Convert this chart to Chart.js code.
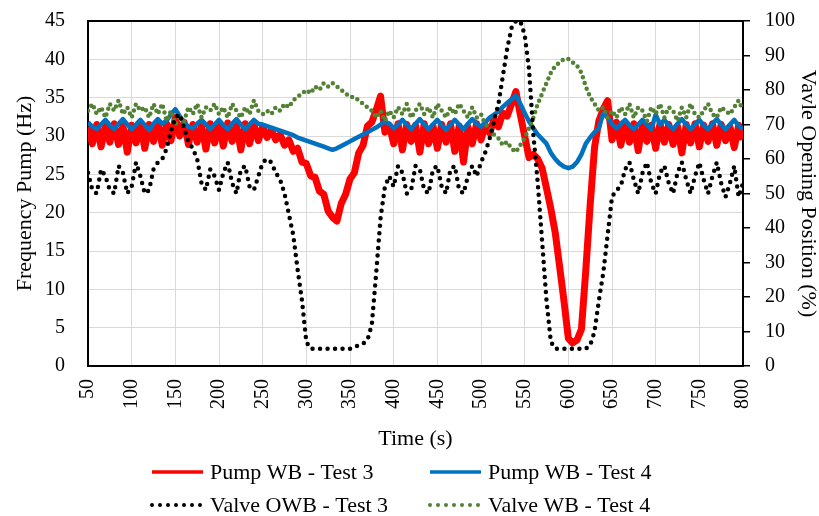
<!DOCTYPE html>
<html>
<head>
<meta charset="utf-8">
<script src="https://cdn.jsdelivr.net/npm/chart.js@4.4.1/dist/chart.umd.min.js"></script>
<style>
  html, body { margin: 0; padding: 0; background: #fff; }
  #wrap { width: 819px; height: 516px; }
</style>
</head>
<body>
<div id="wrap"><canvas id="chart" width="819" height="516"></canvas></div>
<script>
// time axis, one sample every 5 s
const times = [];
for (let t = 50; t <= 800; t += 5) times.push(t);

// Pump WB - Test 3 (Hz)
const pumpTest3 = [
  31.2, 29.0, 31.5, 28.6, 31.4, 29.2, 31.6, 28.9, 31.3, 27.9,
  31.4, 29.1, 31.6, 28.4, 31.5, 29.3, 31.7, 28.8, 31.6, 29.4,
  32.4, 30.0, 31.8, 28.9, 31.5, 29.2, 31.4, 28.3, 31.6, 29.1,
  31.5, 28.7, 31.7, 29.3, 31.4, 28.2, 31.6, 29.0, 31.5, 29.4,
  31.2, 29.8, 30.8, 29.5, 30.2, 28.8, 29.5, 28.0, 28.4, 26.6,
  26.4, 24.8, 24.6, 22.8, 22.4, 20.2, 19.4, 18.9, 21.2, 22.4,
  24.4, 25.2, 27.8, 28.8, 31.3, 31.8, 33.4, 35.2, 30.5, 31.4,
  29.0, 31.6, 28.2, 31.5, 29.3, 31.4, 27.9, 31.6, 29.0, 31.3,
  28.4, 31.5, 29.2, 31.6, 28.0, 31.3, 26.6, 31.2, 29.0, 31.6,
  29.5, 31.4, 30.4, 32.2, 31.2, 33.0, 32.6, 34.2, 35.8, 32.8,
  30.0, 27.2, 27.6, 27.0, 25.8, 23.2, 20.5, 17.4, 13.0, 8.5,
  3.6, 3.0, 3.4, 4.8, 12.5, 21.0, 28.5, 32.0, 33.5, 34.6,
  29.5, 31.8, 28.8, 31.5, 29.2, 31.6, 28.1, 31.5, 29.3, 31.4,
  28.4, 31.6, 29.2, 31.5, 28.9, 31.3, 27.8, 31.5, 29.1, 31.6,
  28.6, 31.4, 29.3, 31.6, 28.8, 31.5, 29.4, 31.2, 28.5, 31.4,
  29.5
];

// Pump WB - Test 4 (Hz)
const pumpTest4 = [
  31.8, 31.2, 30.9, 31.5, 32.1, 31.4, 30.9, 31.6, 32.2, 31.5,
  30.9, 31.5, 32.1, 31.4, 30.8, 31.6, 32.2, 31.6, 32.0, 32.8,
  33.5, 32.6, 31.8, 31.2, 31.0, 31.6, 32.1, 31.5, 30.9, 31.5,
  32.1, 31.4, 30.9, 31.6, 32.2, 31.5, 30.9, 31.5, 32.1, 31.6,
  31.5, 31.3, 31.1, 30.9, 30.7, 30.5, 30.3, 30.1, 29.8, 29.6,
  29.4, 29.2, 29.0, 28.8, 28.6, 28.4, 28.2, 28.4, 28.7, 29.0,
  29.3, 29.6, 29.9, 30.2, 30.5, 30.8, 31.1, 31.5, 31.9, 31.6,
  31.0, 31.5, 32.1, 31.5, 30.9, 31.6, 32.2, 31.5, 30.9, 31.5,
  32.1, 31.4, 30.8, 31.5, 32.1, 31.5, 30.9, 31.6, 32.2, 31.6,
  31.2, 31.8, 32.4, 32.8, 33.2, 33.8, 34.3, 34.8, 35.3, 34.2,
  33.0, 31.9, 31.0, 30.2, 29.6, 29.0, 27.8, 27.0, 26.4, 26.0,
  25.8, 26.0, 26.6, 27.6, 29.0, 29.8, 30.5, 31.0, 33.0, 32.4,
  31.6, 31.0, 31.6, 32.1, 31.4, 30.9, 31.5, 32.1, 31.5, 30.9,
  32.8, 31.5, 32.1, 31.4, 30.9, 31.6, 32.2, 31.5, 30.9, 31.5,
  32.1, 31.4, 30.9, 31.6, 32.2, 31.5, 30.9, 31.5, 32.1, 31.3,
  30.9
];

// Valve OWB - Test 3 (%)
const valveTest3 = [
  56, 51, 50, 57, 55, 51, 50, 58, 56, 50,
  52, 59, 55, 50, 51, 57, 59, 60, 63, 68,
  72, 73, 69, 65, 63, 60, 53, 51, 57, 55,
  51, 56, 59, 53, 50, 57, 58, 52, 51, 55,
  59, 60, 59, 56, 54, 50, 44, 38, 28, 19,
  7, 5, 5, 5, 5, 5, 5, 5, 5, 5,
  5, 5.5, 6, 6.5, 7.5, 12, 27, 43, 52, 55,
  52, 58, 56, 50, 51, 58, 57, 51, 50, 57,
  58, 52, 50, 57, 58, 51, 50, 55, 58, 55,
  59, 62, 66, 71, 76, 84, 92, 98, 100, 100,
  96, 86, 67, 53, 36, 19, 7, 5, 5, 5,
  5, 5, 5, 5, 5, 6, 10, 19, 27, 38,
  49, 51, 52, 57, 59, 54, 50, 56, 59, 53,
  50, 56, 58, 53, 50, 56, 59, 54, 50, 55,
  59, 54, 50, 55, 59, 53, 49, 53, 58, 49,
  53
];

// Valve WB - Test 4 (%)
const valveTest4 = [
  74, 76, 73, 75, 72, 76, 74, 77, 73, 75,
  72, 76, 74, 75, 72, 76, 73, 76, 71, 74,
  70, 72, 71, 75, 73, 76, 72, 75, 74, 76,
  73, 75, 72, 76, 74, 72, 75, 73, 77, 74,
  73, 74, 73, 75, 74, 76, 75, 77, 78, 79,
  80, 79, 81, 80, 82, 81, 82, 81, 80, 79,
  78, 78, 77, 76, 75, 74, 72, 74, 71, 74,
  72, 75, 73, 76, 72, 74, 76, 73, 75, 72,
  76, 74, 72, 75, 73, 76, 74, 72, 75, 72,
  73, 70, 69, 67, 66, 64, 65, 63, 62, 64,
  66, 69, 72, 76, 79, 82, 85, 87, 88, 89,
  89, 88, 87, 85, 81, 78, 76, 74, 75, 72,
  74, 72, 75, 73, 76, 72, 75, 74, 71, 75,
  73, 76, 72, 75, 74, 71, 75, 72, 76, 73,
  72, 74, 76, 73, 72, 75, 74, 73, 75, 77,
  74
];

const freqTicks = [0, 5, 10, 15, 20, 25, 30, 35, 40, 45];
const valveTicks = [0, 10, 20, 30, 40, 50, 60, 70, 80, 90, 100];

const FONT = "'Liberation Serif', 'DejaVu Serif', serif";

function pts(vals) {
    return times.map((t, i) => ({ x: t, y: vals[i] }));
}

// fixed side widths; keep tick padding from pushing the plot top down
function sideFit(width) {
    return (s) => {
        s.width = width;
        s.paddingTop = 10;
        s.paddingBottom = 10;
    };
}

// 2x2 legend under the axis title, plus the top frame line
const boxLegend = {
    id: 'boxLegend',
    beforeDatasetsDraw(chart) {
        const { ctx, chartArea } = chart;
        ctx.save();
        ctx.strokeStyle = '#000';
        ctx.lineWidth = 2;
        ctx.beginPath();
        ctx.moveTo(chartArea.left, chartArea.top);
        ctx.lineTo(chartArea.right, chartArea.top);
        ctx.stroke();
        ctx.restore();
    },
    afterDraw(chart) {
        const ctx = chart.ctx;
        const cols = [150, 428];
        const rows = [472, 505];
        ctx.save();
        ctx.font = "22px " + FONT;
        ctx.textBaseline = 'middle';
        ctx.fillStyle = '#000';
        chart.data.datasets.forEach((ds, i) => {
            const x = cols[i % 2];
            const y = rows[Math.floor(i / 2)];
            ctx.beginPath();
            ctx.strokeStyle = ds.borderColor;
            ctx.lineWidth = ds.borderDash ? 4 : 3.5;
            ctx.lineCap = ds.borderDash ? 'round' : 'butt';
            ctx.setLineDash(ds.borderDash ? [0, 8] : []);
            ctx.moveTo(x + 2, y);
            ctx.lineTo(x + 53, y);
            ctx.stroke();
            ctx.setLineDash([]);
            ctx.fillText(ds.label, x + 60, y + 1);
        });
        ctx.restore();
    }
};

const ctx = document.getElementById('chart').getContext('2d');
new Chart(ctx, {
    type: 'line',
    data: {
        datasets: [
            {
                label: 'Pump WB - Test 3',
                data: pts(pumpTest3),
                yAxisID: 'y',
                borderColor: '#FF0000',
                borderWidth: 7,
                borderJoinStyle: 'round',
                order: 3,
            },
            {
                label: 'Pump WB - Test 4',
                data: pts(pumpTest4),
                yAxisID: 'y',
                borderColor: '#0070C0',
                borderWidth: 4.5,
                borderJoinStyle: 'round',
                order: 2,
            },
            {
                label: 'Valve OWB - Test 3',
                data: pts(valveTest3),
                yAxisID: 'y1',
                borderColor: '#000000',
                borderWidth: 4.5,
                borderDash: [0, 7.5],
                borderCapStyle: 'round',
                order: 0,
            },
            {
                label: 'Valve WB - Test 4',
                data: pts(valveTest4),
                yAxisID: 'y1',
                borderColor: '#548235',
                borderWidth: 4.5,
                borderDash: [0, 6],
                borderCapStyle: 'round',
                order: 1,
            },
        ],
    },
    options: {
        responsive: false,
        animation: false,
        layout: { padding: { top: 21, bottom: 64, left: 0, right: 0 } },
        elements: {
            point: { radius: 0 },
            line: { tension: 0 },
        },
        plugins: {
            legend: { display: false },
            tooltip: { enabled: false },
        },
        scales: {
            x: {
                type: 'linear',
                min: 50,
                max: 800,
                afterBuildTicks: (s) => { s.ticks = times.filter(t => t % 50 === 0).map(v => ({ value: v })); },
                afterFit: (s) => { s.height = 86; },
                grid: { color: '#D9D9D9', lineWidth: 1, drawTicks: false },
                border: { color: '#000', width: 2 },
                ticks: {
                    minRotation: 90,
                    maxRotation: 90,
                    padding: 13,
                    color: '#000',
                    font: { family: FONT, size: 20 },
                },
                title: {
                    display: true,
                    text: 'Time (s)',
                    color: '#000',
                    font: { family: FONT, size: 22 },
                    padding: { top: 0, bottom: 0 },
                },
            },
            y: {
                position: 'left',
                min: 0,
                max: 45,
                afterBuildTicks: (s) => { s.ticks = freqTicks.map(v => ({ value: v })); },
                afterFit: sideFit(88),
                grid: { color: '#D9D9D9', lineWidth: 1, drawTicks: false },
                border: { color: '#000', width: 2 },
                ticks: {
                    padding: 23,
                    color: '#000',
                    font: { family: FONT, size: 20 },
                },
                title: {
                    display: true,
                    text: 'Frequency Pump (Hz)',
                    color: '#000',
                    font: { family: FONT, size: 22, lineHeight: 1 },
                    padding: { top: 14, bottom: 0 },
                },
            },
            y1: {
                position: 'right',
                min: 0,
                max: 100,
                afterBuildTicks: (s) => { s.ticks = valveTicks.map(v => ({ value: v })); },
                afterFit: sideFit(76),
                grid: { drawOnChartArea: false, color: '#000', tickColor: '#000', tickLength: 7, lineWidth: 1.5 },
                border: { color: '#000', width: 2 },
                ticks: {
                    padding: 15,
                    color: '#000',
                    font: { family: FONT, size: 20 },
                },
                title: {
                    display: true,
                    text: 'Vavle Opening Position (%)',
                    color: '#000',
                    font: { family: FONT, size: 22, lineHeight: 1 },
                    padding: { top: 0, bottom: 0 },
                },
            },
        },
    },
    plugins: [boxLegend],
});
</script>
</body>
</html>
